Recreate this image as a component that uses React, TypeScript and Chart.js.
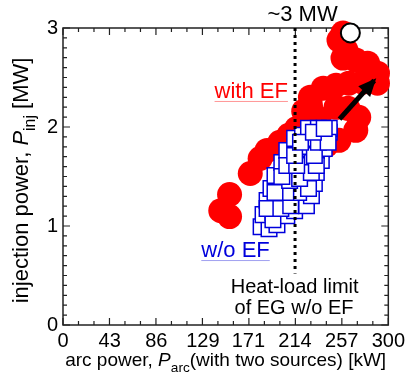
import React, { useEffect, useRef } from 'react';
import { Chart, registerables } from 'chart.js';

Chart.register(...registerables);

// ---- data ----
const xTickValues = [0, 43, 86, 129, 171, 214, 257, 300];
const xTickLabels = ['0', '43', '86', '129', '171', '214', '257', '300'];
const yTickValues = [0, 1, 2, 3];

// with EF (red circles)
const withEfX = [145.5, 153.6, 153.6, 172.7, 181.8, 188.2, 200.0, 208.2, 215.5, 224.5, 231.8, 228.2, 228.2, 240.0, 251.8, 263.6, 276.4, 290.0, 290.0, 280.9, 270.0, 258.2, 260.9, 254.5, 258.2, 251.8, 262.7, 272.7, 270.0, 254.5, 242.7, 236.0, 222.0];
const withEfY = [1.155, 1.095, 1.318, 1.53, 1.682, 1.763, 1.845, 1.916, 1.986, 2.067, 2.118, 2.22, 2.301, 2.392, 2.422, 2.442, 2.453, 2.442, 2.544, 2.645, 2.676, 2.696, 2.777, 2.878, 2.949, 2.199, 2.189, 2.098, 1.966, 1.865, 1.814, 2.06, 2.16];

// w/o EF (blue open squares)
const woEfX = [182.7, 190.0, 197.3, 184.5, 193.6, 206.4, 213.6, 188.2, 197.3, 204.5, 215.5, 224.5, 229.1, 191.8, 200.0, 210.9, 220.0, 231.8, 195.5, 206.4, 215.5, 224.5, 233.6, 201.8, 210.9, 220.0, 229.1, 238.2, 206.4, 215.5, 224.5, 233.6, 240.9, 213.6, 220.9, 229.1, 238.2, 245.5, 226.4, 235.5, 245.5, 193.6, 188.2, 200.9, 210.0, 217.3, 205.5, 195.5, 226.4, 209.0, 218.2, 201.8, 229.0, 206.4, 215.5, 233.6, 213.6, 231.8, 219.0, 235.5, 244.5, 230.9, 240.9];
const woEfY = [0.993, 0.973, 1.013, 1.115, 1.135, 1.105, 1.155, 1.257, 1.277, 1.226, 1.277, 1.206, 1.307, 1.378, 1.399, 1.378, 1.409, 1.429, 1.51, 1.54, 1.5, 1.561, 1.54, 1.642, 1.662, 1.682, 1.642, 1.662, 1.763, 1.784, 1.804, 1.763, 1.784, 1.885, 1.916, 1.885, 1.905, 1.946, 1.986, 1.986, 1.986, 1.064, 1.176, 1.176, 1.206, 1.338, 1.338, 1.338, 1.378, 1.459, 1.479, 1.5, 1.54, 1.611, 1.611, 1.611, 1.713, 1.713, 1.845, 1.845, 1.845, 1.946, 1.986];

// ~3 MW peak marker
const peakX = [265];
const peakY = [2.95];

// heat-load limit dotted line
const limitX = [214, 214];
const limitY = [3, 0.52];

// arrow (tail -> head)
const arrowX = [255, 287];
const arrowY = [2.08, 2.47];

const FONT = '"Liberation Sans", Arial, Helvetica, sans-serif';
const RED = 'rgb(255,0,0)';
const BLUE = 'rgb(0,0,220)';

type Seg = { t: string; italic?: boolean; sub?: boolean };

function richWidth(ctx: CanvasRenderingContext2D, segs: Seg[], size: number) {
  let w = 0;
  for (const s of segs) {
    const fs = s.sub ? size * 0.72 : size;
    ctx.font = `${s.italic ? 'italic ' : ''}${fs}px ${FONT}`;
    w += ctx.measureText(s.t).width;
  }
  return w;
}

function drawRich(ctx: CanvasRenderingContext2D, segs: Seg[], cx: number, baseY: number, size: number) {
  const total = richWidth(ctx, segs, size);
  let x = cx - total / 2;
  ctx.textAlign = 'left';
  ctx.textBaseline = 'alphabetic';
  for (const s of segs) {
    const fs = s.sub ? size * 0.72 : size;
    ctx.font = `${s.italic ? 'italic ' : ''}${fs}px ${FONT}`;
    ctx.fillText(s.t, x, baseY + (s.sub ? size * 0.3 : 0));
    x += ctx.measureText(s.t).width;
  }
}

const decorPlugin = {
  id: 'decor',
  beforeDatasetsDraw(chart: any) {
    const { ctx, chartArea: a, scales } = chart;
    const xs = scales.x, ys = scales.y;
    ctx.save();
    ctx.strokeStyle = '#222';
    ctx.lineWidth = 1.5;
    ctx.strokeRect(a.left, a.top, a.right - a.left, a.bottom - a.top);
    ctx.lineWidth = 1.2;
    ctx.beginPath();
    for (let k = 0; k <= 21; k++) {
      const v = (300 * k) / 21;
      const px = xs.getPixelForValue(v);
      const len = k % 3 === 0 ? 7 : 4;
      ctx.moveTo(px, a.bottom); ctx.lineTo(px, a.bottom - len);
      ctx.moveTo(px, a.top); ctx.lineTo(px, a.top + len);
    }
    for (let k = 0; k <= 30; k++) {
      const v = k / 10;
      const py = ys.getPixelForValue(v);
      const len = k % 10 === 0 ? 7 : 4;
      ctx.moveTo(a.left, py); ctx.lineTo(a.left + len, py);
      ctx.moveTo(a.right, py); ctx.lineTo(a.right - len, py);
    }
    ctx.stroke();
    ctx.restore();
  },
  afterDatasetsDraw(chart: any) {
    const { ctx, chartArea: a, scales } = chart;
    const xs = scales.x, ys = scales.y;
    ctx.save();
    // arrow head
    const tx = xs.getPixelForValue(arrowX[0]), ty = ys.getPixelForValue(arrowY[0]);
    const hx = xs.getPixelForValue(arrowX[1]), hy = ys.getPixelForValue(arrowY[1]);
    const ang = Math.atan2(hy - ty, hx - tx);
    const L = 15, W = 8;
    ctx.fillStyle = '#000';
    ctx.beginPath();
    ctx.moveTo(hx + Math.cos(ang) * 3, hy + Math.sin(ang) * 3);
    ctx.lineTo(hx - Math.cos(ang) * L + Math.cos(ang + Math.PI / 2) * W, hy - Math.sin(ang) * L + Math.sin(ang + Math.PI / 2) * W);
    ctx.lineTo(hx - Math.cos(ang) * L - Math.cos(ang + Math.PI / 2) * W, hy - Math.sin(ang) * L - Math.sin(ang + Math.PI / 2) * W);
    ctx.closePath();
    ctx.fill();

    // annotations
    const label = (text: string, x: number, y: number, color: string, size: number, ul?: string) => {
      const px = xs.getPixelForValue(x), py = ys.getPixelForValue(y);
      ctx.font = `${size}px ${FONT}`;
      ctx.fillStyle = color;
      ctx.textAlign = 'center';
      ctx.textBaseline = 'middle';
      ctx.fillText(text, px, py);
      if (ul) {
        const w = ctx.measureText(text).width;
        ctx.strokeStyle = ul;
        ctx.lineWidth = 1;
        ctx.beginPath();
        ctx.moveTo(px - w / 2, py + 9.5);
        ctx.lineTo(px + w / 2, py + 9.5);
        ctx.stroke();
      }
    };
    label('~3 MW', 220.9, 3.13, '#000', 22);
    label('with EF', 173.6, 2.354, RED, 22, 'rgb(255,150,150)');
    label('w/o EF', 159.1, 0.747, BLUE, 22, 'rgb(160,160,240)');
    label('Heat-load limit', 213.6, 0.374, '#000', 20);
    label('of EG w/o EF', 213.0, 0.162, '#000', 20);

    // axis titles
    ctx.fillStyle = '#000';
    const cx = (a.left + a.right) / 2;
    drawRich(ctx, [{ t: 'arc power, ' }, { t: 'P', italic: true }, { t: 'arc', sub: true }, { t: '(with two sources) [kW]' }], cx, 366, 19);
    const cy = (a.top + a.bottom) / 2 + 4;
    ctx.save();
    ctx.translate(28, cy);
    ctx.rotate(-Math.PI / 2);
    drawRich(ctx, [{ t: 'injection power, ' }, { t: 'P', italic: true }, { t: 'inj', sub: true }, { t: ' [MW]' }], 0, 0, 22);
    ctx.restore();
    ctx.restore();
  },
};

function toPts(xs: number[], ys: number[]) {
  return xs.map((x, i) => ({ x, y: ys[i] }));
}

export default function App() {
  const ref = useRef<HTMLCanvasElement | null>(null);
  useEffect(() => {
    if (!ref.current) return;
    const chart = new Chart(ref.current, {
      type: 'scatter',
      data: {
        datasets: [
          {
            label: 'arrow',
            data: toPts(arrowX, arrowY),
            showLine: true,
            borderColor: '#000',
            borderWidth: 5,
            pointRadius: 0,
            order: 1,
            clip: false,
          } as any,
          {
            label: 'peak',
            data: toPts(peakX, peakY),
            pointRadius: 9.5,
            pointBackgroundColor: '#fff',
            pointBorderColor: '#000',
            pointBorderWidth: 2,
            order: 2,
            clip: false,
          } as any,
          {
            label: 'limit',
            data: toPts(limitX, limitY),
            showLine: true,
            borderColor: '#000',
            borderWidth: 3,
            borderDash: [3, 4],
            pointRadius: 0,
            order: 3,
            clip: false,
          } as any,
          {
            label: 'w/o EF',
            data: toPts(woEfX, woEfY),
            pointStyle: 'rect',
            pointRadius: 11,
            pointBackgroundColor: '#fff',
            pointBorderColor: BLUE,
            pointBorderWidth: 1.5,
            order: 4,
            clip: false,
          } as any,
          {
            label: 'with EF',
            data: toPts(withEfX, withEfY),
            pointRadius: 12.5,
            pointBackgroundColor: RED,
            pointBorderWidth: 0,
            order: 5,
            clip: false,
          } as any,
        ],
      },
      options: {
        animation: false,
        responsive: true,
        maintainAspectRatio: false,
        layout: { padding: { top: 28, right: 16, left: 0, bottom: 0 } },
        plugins: { legend: { display: false }, tooltip: { enabled: false } },
        events: [],
        scales: {
          x: {
            type: 'linear',
            min: 0,
            max: 300,
            afterBuildTicks: (s: any) => { s.ticks = xTickValues.map((v) => ({ value: v })); },
            afterFit: (s: any) => { s.height = 62; },
            ticks: {
              autoSkip: false,
              maxRotation: 0,
              padding: 4,
              color: '#000',
              font: { family: FONT, size: 20 },
              callback: (v: any) => xTickLabels[xTickValues.indexOf(v)] ?? '',
            },
            grid: { display: false, drawTicks: false },
            border: { display: false },
          },
          y: {
            type: 'linear',
            min: 0,
            max: 3,
            afterBuildTicks: (s: any) => { s.ticks = yTickValues.map((v) => ({ value: v })); },
            afterFit: (s: any) => { s.width = 63; },
            ticks: {
              padding: 5,
              color: '#000',
              font: { family: FONT, size: 20 },
              callback: (v: any) => String(v),
            },
            grid: { display: false, drawTicks: false },
            border: { display: false },
          },
        },
      },
      plugins: [decorPlugin],
    });
    return () => chart.destroy();
  }, []);
  return (
    <div style={{ position: 'absolute', left: 0, top: 0, width: 409, height: 387, background: '#fff' }}>
      <canvas ref={ref} />
    </div>
  );
}
